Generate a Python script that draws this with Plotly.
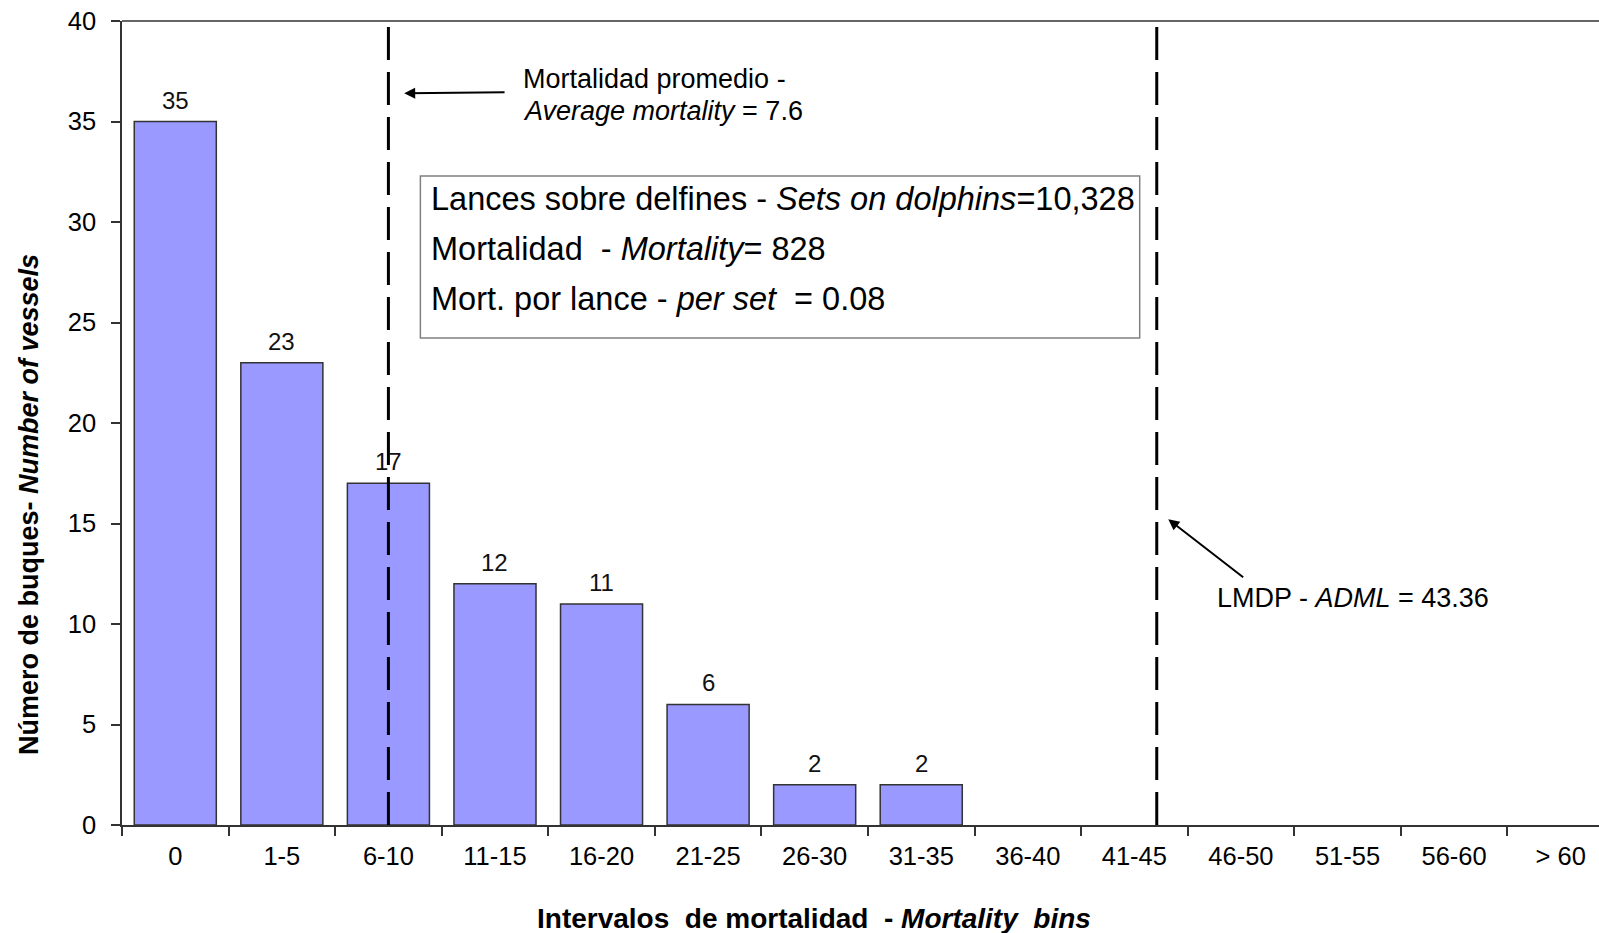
import plotly.graph_objects as go

categories = ["0", "1-5", "6-10", "11-15", "16-20", "21-25", "26-30", "31-35",
              "36-40", "41-45", "46-50", "51-55", "56-60", "> 60"]
vessels = [35, 23, 17, 12, 11, 6, 2, 2, 0, 0, 0, 0, 0, 0]
avg_mortality_pos = 2.0      # category position of average mortality (7.6)
adml_pos = 9.21              # category position of ADML (43.36)

FONT = "Liberation Sans, Arial, sans-serif"

fig = go.Figure()
fig.add_trace(go.Bar(
    x=categories, y=vessels,
    marker=dict(color="#9999FF",
                line=dict(color="#333333", width=[1.5 if v > 0 else 0 for v in vessels])),
    showlegend=False, hoverinfo="x+y",
))

annotations = []
for c, v in zip(categories, vessels):
    if v > 0:
        annotations.append(dict(x=c, y=v, text=str(v), showarrow=False,
                                yanchor="bottom", yshift=6,
                                font=dict(size=24, color="#111111", family=FONT)))

shapes = []
for xp in (avg_mortality_pos, adml_pos):
    shapes.append(dict(type="line", xref="x", yref="y", x0=xp, x1=xp, y0=0, y1=40,
                       line=dict(color="black", width=3, dash="33px,12px")))
# top border line
shapes.append(dict(type="line", xref="paper", yref="paper", x0=0, x1=1, y0=1, y1=1,
                   line=dict(color="#333333", width=1.5)))
# info box
shapes.append(dict(type="rect", xref="x", yref="y", x0=2.30, x1=9.05, y0=24.23, y1=32.29,
                   line=dict(color="#808080", width=1.5), fillcolor="white"))

box_lines = [
    "Lances sobre delfines - <i>Sets on dolphins</i>=10,328",
    "Mortalidad  - <i>Mortality</i>= 828",
    "Mort. por lance - <i>per set</i>  = 0.08",
]
for yy, t in zip([31.13, 28.64, 26.16], box_lines):
    annotations.append(dict(x=2.378, y=yy, xref="x", yref="y", text=t, showarrow=False,
                            xanchor="left", yanchor="middle",
                            font=dict(size=32.5, color="black", family=FONT)))

# arrow to average mortality
annotations.append(dict(x=2.148, y=36.40, ax=3.104, ay=36.45, xref="x", yref="y",
                        axref="x", ayref="y", text="", showarrow=True,
                        arrowhead=2, arrowsize=1.1, arrowwidth=2, arrowcolor="black"))
annotations.append(dict(x=3.248, y=37.11, xref="x", yref="y", text="Mortalidad promedio -",
                        showarrow=False, xanchor="left", yanchor="middle",
                        font=dict(size=27, color="black", family=FONT)))
annotations.append(dict(x=3.248, y=35.54, xref="x", yref="y",
                        text="<i>Average mortality</i> = 7.6",
                        showarrow=False, xanchor="left", yanchor="middle",
                        font=dict(size=27, color="black", family=FONT)))
# arrow to ADML
annotations.append(dict(x=9.318, y=15.21, ax=10.035, ay=12.27, xref="x", yref="y",
                        axref="x", ayref="y", text="", showarrow=True,
                        arrowhead=2, arrowsize=1.1, arrowwidth=2, arrowcolor="black"))
annotations.append(dict(x=9.758, y=11.31, xref="x", yref="y",
                        text="LMDP - <i>ADML</i> = 43.36",
                        showarrow=False, xanchor="left", yanchor="middle",
                        font=dict(size=27, color="black", family=FONT)))

# axis titles
annotations.append(dict(xref="paper", yref="paper", x=0.4686, y=0, yshift=-93,
                        text="<b>Intervalos\u00a0 de mortalidad\u00a0 - <i>Mortality\u00a0 bins</i></b>",
                        showarrow=False, xanchor="center", yanchor="middle",
                        font=dict(size=28, color="black", family=FONT)))
annotations.append(dict(xref="paper", yref="paper", x=0, xshift=-93, y=0.398,
                        text="<b>Número de buques- <i>Number of vessels</i></b>",
                        textangle=-90, showarrow=False, xanchor="center", yanchor="middle",
                        font=dict(size=27, color="black", family=FONT)))

fig.update_layout(
    width=1599, height=933,
    margin=dict(l=122, r=0, t=21, b=108),
    paper_bgcolor="white", plot_bgcolor="white",
    bargap=0.23,
    font=dict(family=FONT, color="black"),
    annotations=annotations, shapes=shapes,
    xaxis=dict(type="category", range=[-0.5, 13.36], showgrid=False,
               showline=True, linecolor="#333333", linewidth=1.5,
               ticks="outside", ticklen=9, tickcolor="#333333", tickwidth=1.5,
               tickson="boundaries", ticklabelstandoff=8,
               tickfont=dict(size=25.5, color="black", family=FONT),
               fixedrange=True),
    yaxis=dict(range=[0, 40], dtick=5, showgrid=False, zeroline=False,
               showline=True, linecolor="#333333", linewidth=1.5,
               ticks="outside", ticklen=9, tickcolor="#333333", tickwidth=1.5,
               ticklabelstandoff=10,
               tickfont=dict(size=25.5, color="black", family=FONT), fixedrange=True),
)

fig.write_html("out.html", config={"displayModeBar": False},
               post_script="document.body.style.margin='0';document.body.style.overflow='hidden';")
